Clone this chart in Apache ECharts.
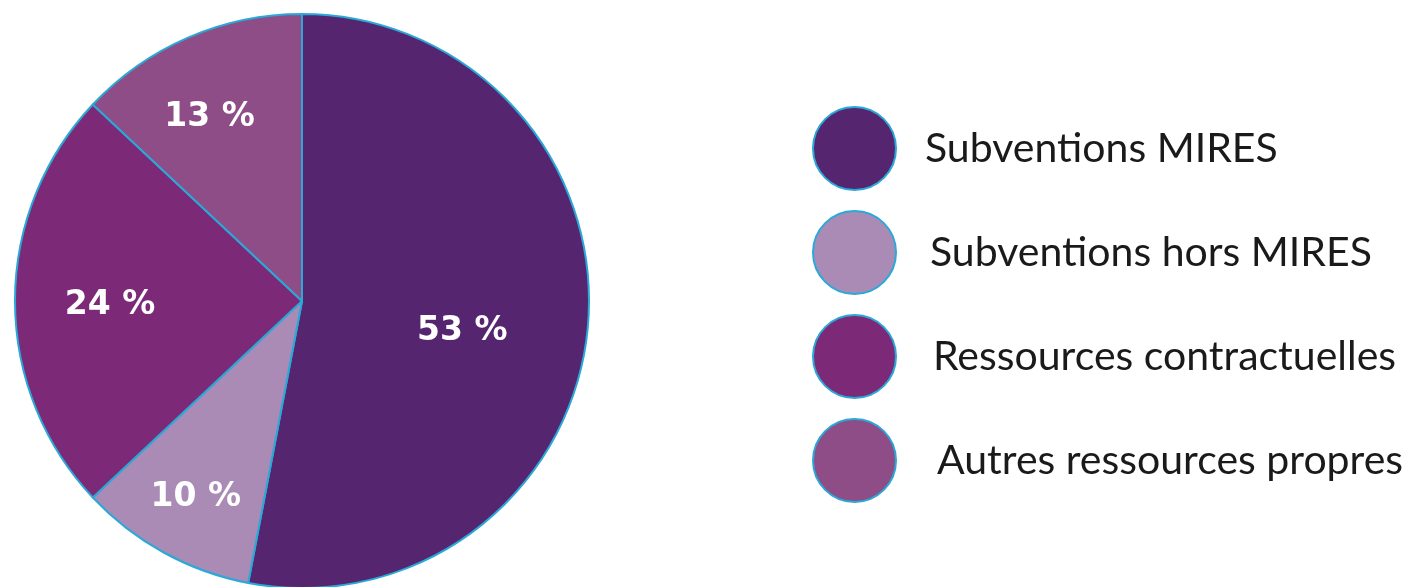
<!DOCTYPE html>
<html><head><meta charset="utf-8">
<script src="https://cdn.jsdelivr.net/npm/echarts@6/dist/echarts.min.js"></script>
<style>html,body{margin:0;padding:0;background:#fff}#c{width:1426px;height:587px}</style>
</head><body><div id="c"></div>
<script>
const categories = ['Subventions MIRES','Subventions hors MIRES','Ressources contractuelles','Autres ressources propres'];
const values = [53, 10, 24, 13];
const colors = ['#55266f','#a98bb6','#7c2a78','#8e4d86'];
const legendShift = [0, 5, 8, 12];
const labelNudge = [[-5,15],[-5,12],[18,4],[-9,9]];

const chart = echarts.init(document.getElementById('c'));
const data = categories.map((n,i)=>({name:n,value:values[i],itemStyle:{color:colors[i]}}));
const labelStyle = {position:'inside', formatter:'{c} %', color:'#fff', fontFamily:'DejaVu Sans', fontWeight:'bold', fontSize:33};
const C = [302,301];
chart.setOption({
  animation:false,
  legend:{
    orient:'vertical', left:807, top:101, padding:5,
    itemWidth:83, itemHeight:83, itemGap:19, icon:'circle',
    itemStyle:{borderColor:'#2aa8d8', borderWidth:2},
    textStyle:{fontFamily:'Lato', fontSize:41, color:'#1a1a1a'},
    data: categories.map((n,i)=>({name:n, textStyle:{padding:[0,0,0,24+legendShift[i]]}})),
    selectedMode:false
  },
  series:[{
    type:'pie', center:C, radius:[0,287], startAngle:90, clockwise:true,
    data:data, label:{show:false}, labelLine:{show:false},
    itemStyle:{borderColor:'#2aa8d8', borderWidth:2}, silent:true
  },{
    type:'pie', center:C, radius:[60,266], startAngle:90, clockwise:true,
    data:categories.map((n,i)=>({name:n,value:values[i],label:{show:i===0, offset:labelNudge[i]}})),
    itemStyle:{color:'rgba(0,0,0,0)', borderWidth:0}, silent:true, legendHoverLink:false,
    label:Object.assign({show:true}, labelStyle), labelLine:{show:false}
  },{
    type:'pie', center:C, radius:[124,290], startAngle:90, clockwise:true,
    data:categories.map((n,i)=>({name:n,value:values[i],label:{show:i!==0, offset:labelNudge[i]}})),
    itemStyle:{color:'rgba(0,0,0,0)', borderWidth:0}, silent:true, legendHoverLink:false,
    label:Object.assign({show:true}, labelStyle), labelLine:{show:false}
  }]
});
</script></body></html>
